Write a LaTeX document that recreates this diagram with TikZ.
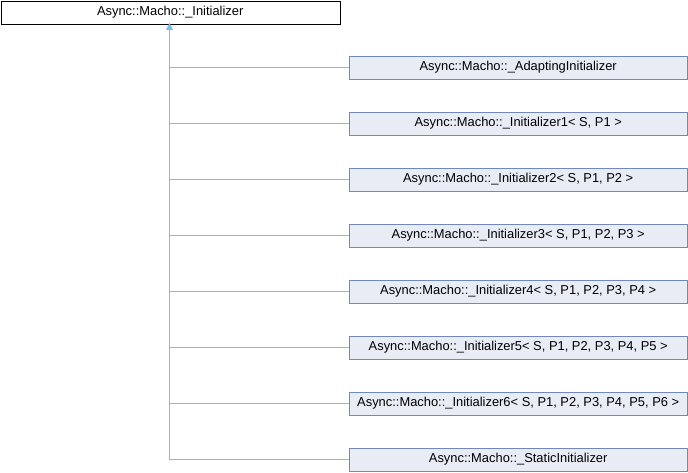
\documentclass[tikz,border=0pt]{standalone}
\usepackage{fontspec}
\setmainfont{Liberation Sans}
\usetikzlibrary{arrows.meta}
\definecolor{boxfill}{HTML}{E8ECF5}
\definecolor{boxdraw}{HTML}{7386BE}
\definecolor{edge}{HTML}{7DBDEB}
\tikzset{
  base/.style={draw=black, fill=white, minimum width=339pt, minimum height=23pt, inner sep=0pt, font=\fontsize{12.9pt}{14pt}\selectfont, anchor=north west},
  child/.style={draw=boxdraw, fill=boxfill, minimum width=338pt, minimum height=23pt, inner sep=0pt, font=\fontsize{12.9pt}{14pt}\selectfont, anchor=west},
  inh/.style={draw=edge, line width=1pt},
}
\begin{document}
\begin{tikzpicture}[x=1pt,y=-1pt]
\useasboundingbox (0,0) rectangle (688,472);
\node[base] (root) at (0.5,0.5) {Async::Macho::\_Initializer};
\node[child] (c1) at (349,67.5) {Async::Macho::\_AdaptingInitializer};
\node[child] (c2) at (349,123.5) {Async::Macho::\_Initializer1< S, P1 >};
\node[child] (c3) at (349,179.5) {Async::Macho::\_Initializer2< S, P1, P2 >};
\node[child] (c4) at (349,235.5) {Async::Macho::\_Initializer3< S, P1, P2, P3 >};
\node[child] (c5) at (349,291.5) {Async::Macho::\_Initializer4< S, P1, P2, P3, P4 >};
\node[child] (c6) at (349,347.5) {Async::Macho::\_Initializer5< S, P1, P2, P3, P4, P5 >};
\node[child] (c7) at (349,403.5) {Async::Macho::\_Initializer6< S, P1, P2, P3, P4, P5, P6 >};
\node[child] (c8) at (349,459.5) {Async::Macho::\_StaticInitializer};
\coordinate (trunk) at (169.5,459.5);
\draw[inh] (trunk) -- (root.south -| trunk);
\fill[edge] ([yshift=1pt]root.south -| trunk) -- ++(-3.5,7) -- ++(7,0) -- cycle;
\foreach \c in {c1,c2,c3,c4,c5,c6,c7,c8}{
  \draw[inh] (\c.west -| trunk) -- (\c.west);
}
\end{tikzpicture}
\end{document}
